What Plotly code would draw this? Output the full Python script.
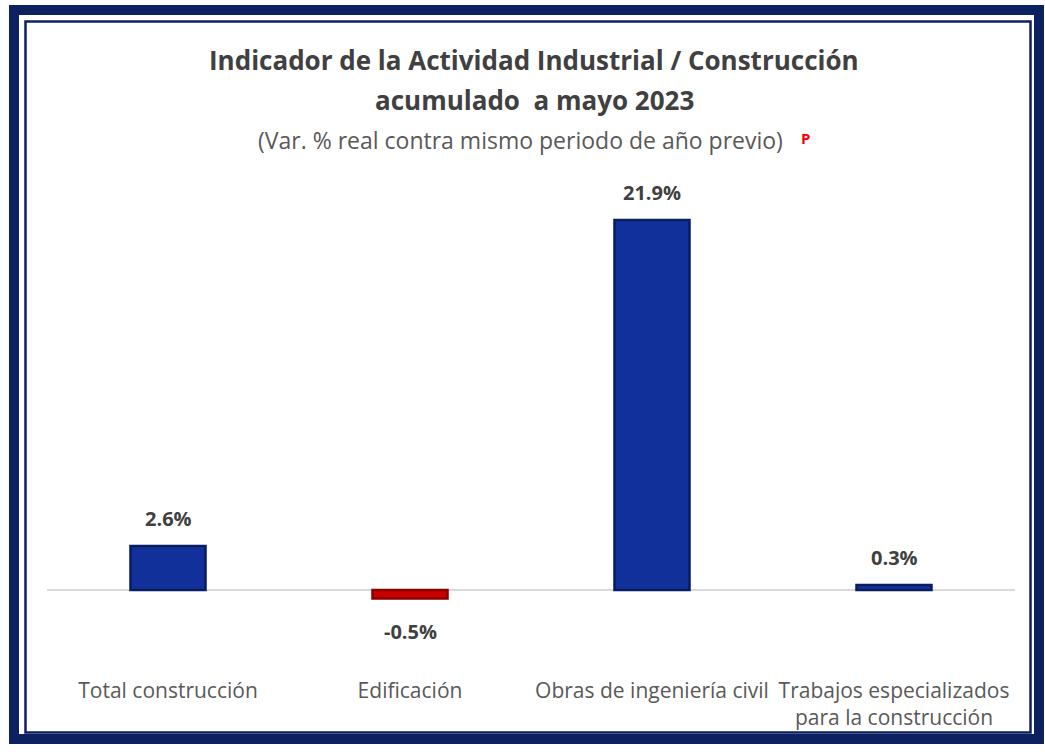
import plotly.graph_objects as go

categories = ["Total construcción", "Edificación", "Obras de ingeniería civil",
              "Trabajos especializados<br>para la construcción"]
values = [2.6, -0.5, 21.9, 0.3]
labels = ["2.6%", "-0.5%", "21.9%", "0.3%"]

W, H = 1045, 752
L, R, T, B = 47, 1015, 190, 676  # plot area pixel box


def px_x(x):
    return (x - L) / (R - L)


def px_y(y):
    return (B - y) / (B - T)


FONT = "Open Sans"
colors = ["#12309a" if v >= 0 else "#c80000" for v in values]
lines = ["#091d62" if v >= 0 else "#8a0000" for v in values]

fig = go.Figure()
fig.add_trace(go.Bar(
    x=categories, y=values,
    marker=dict(color=colors, line=dict(color=lines, width=2.5)),
    width=0.31, hoverinfo="skip",
))

for c, v, t in zip(categories, values, labels):
    fig.add_annotation(
        x=c, y=v, xref="x", yref="y", text=f"<b>{t}</b>", showarrow=False,
        yanchor="bottom" if v >= 0 else "top",
        yshift=12 if v >= 0 else -18,
        font=dict(family=FONT, size=20, color="#404040"),
    )


def note(x, y, text, size, color):
    fig.add_annotation(x=px_x(x), y=px_y(y), xref="paper", yref="paper",
                       xanchor="center", yanchor="middle", text=text,
                       showarrow=False, font=dict(family=FONT, size=size, color=color))


# Titles
note(534, 60, "<b>Indicador de la Actividad Industrial / Construcción</b>", 26, "#404040")
note(534, 100, "<b>acumulado  a mayo 2023</b>", 26, "#404040")
note(520, 140, "(Var. % real contra mismo periodo de año previo)", 23, "#595959")
note(805, 138, "<b>P</b>", 15, "#ff0000")

# Frame
fig.add_shape(type="rect", xref="paper", yref="paper",
              x0=px_x(14), x1=px_x(1039), y0=px_y(739), y1=px_y(10),
              line=dict(color="#0c2160", width=10), layer="below")
fig.add_shape(type="rect", xref="paper", yref="paper",
              x0=px_x(25.5), x1=px_x(1030.5), y0=px_y(732.5), y1=px_y(21.5),
              line=dict(color="#0c2160", width=2.5), layer="below")

fig.update_layout(
    width=W, height=H,
    margin=dict(l=L, r=W - R, t=T, b=H - B),
    paper_bgcolor="white", plot_bgcolor="white",
    showlegend=False,
    font=dict(family=FONT, color="#595959"),
)
fig.update_xaxes(showline=False, showgrid=False, ticks="",
                 tickfont=dict(family=FONT, size=21, color="#595959"),
                 tickangle=0, ticklabelstandoff=0)
fig.update_yaxes(range=[-5.09, 23.67], showgrid=False, showticklabels=False,
                 zeroline=True, zerolinecolor="#d9d9d9", zerolinewidth=1.5,
                 showline=False, ticks="")

fig.write_html("out.html", config={"displayModeBar": False},
               post_script="document.body.style.margin='0';document.body.style.overflow='hidden';")
